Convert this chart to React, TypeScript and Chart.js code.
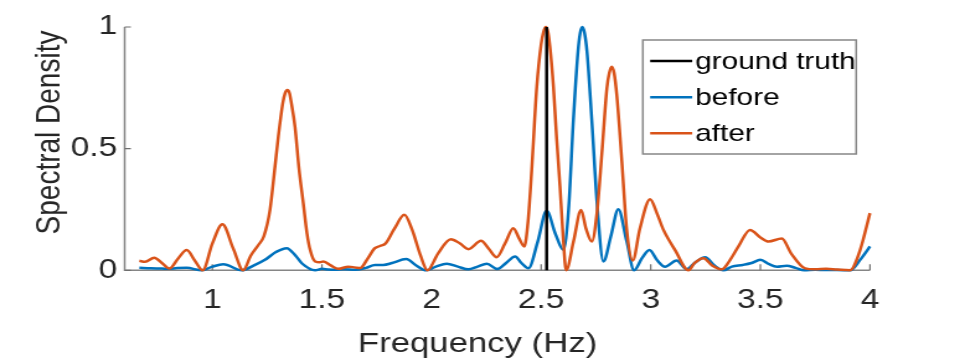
import React, { useEffect, useRef } from 'react';
import { Chart, registerables } from 'chart.js';

Chart.register(...registerables);

// ---------- data ----------
const X_TICKS = [1, 1.5, 2, 2.5, 3, 3.5, 4];
const Y_TICKS = [0, 0.5, 1];
const SERIES_NAMES = ['ground truth', 'before', 'after'];
const SERIES_COLORS = ['#000000', '#0072BD', '#D95319'];

const TRUTH_FREQ = [2.525, 2.525];
const TRUTH_VALS = [0, 1];

const BEFORE_FREQ = [
  0.667, 0.72, 0.77, 0.8, 0.84, 0.883, 0.952, 1.0, 1.05, 1.134,
  1.19, 1.24, 1.29, 1.339, 1.38, 1.408, 1.469, 1.5, 1.53, 1.56,
  1.6, 1.65, 1.7, 1.742, 1.78, 1.82, 1.884, 1.93, 1.975, 2.02,
  2.069, 2.12, 2.168, 2.21, 2.252, 2.3, 2.34, 2.381, 2.41, 2.442,
  2.485, 2.525, 2.565, 2.601, 2.625, 2.647, 2.668, 2.678, 2.688, 2.698,
  2.709, 2.731, 2.757, 2.784, 2.818, 2.852, 2.89, 2.924, 2.96, 2.994,
  3.03, 3.065, 3.118, 3.164, 3.2, 3.248, 3.29, 3.331, 3.37, 3.42,
  3.46, 3.5, 3.54, 3.575, 3.62, 3.66, 3.7, 3.75, 3.8, 3.85,
  3.91, 3.955, 4.0,
];
const BEFORE_VALS = [
  0.01, 0.008, 0.007, 0.006, 0.009, 0.01, 0.0, 0.015, 0.025, 0.0,
  0.02, 0.043, 0.075, 0.091, 0.06, 0.029, 0.0, 0.006, 0.003, 0.002,
  0.004, 0.002, 0.01, 0.022, 0.022, 0.03, 0.046, 0.02, 0.0, 0.015,
  0.027, 0.015, 0.004, 0.015, 0.027, 0.005, 0.03, 0.057, 0.03, 0.008,
  0.12, 0.245, 0.15, 0.084, 0.25, 0.618, 0.9, 0.975, 1.0, 0.975,
  0.9, 0.618, 0.25, 0.036, 0.14, 0.251, 0.12, 0.0, 0.05, 0.083,
  0.04, 0.015, 0.04, 0.004, 0.03, 0.054, 0.02, 0.0, 0.015, 0.022,
  0.03, 0.043, 0.025, 0.015, 0.019, 0.01, 0.0, 0.002, 0.001, 0.001,
  0.0, 0.043, 0.098,
];

const AFTER_FREQ = [
  0.667, 0.693, 0.735, 0.77, 0.804, 0.845, 0.883, 0.92, 0.956, 1.0,
  1.046, 1.095, 1.141, 1.175, 1.21, 1.235, 1.263, 1.285, 1.301, 1.322,
  1.332, 1.342, 1.352, 1.36, 1.377, 1.395, 1.415, 1.432, 1.446, 1.469,
  1.49, 1.507, 1.54, 1.575, 1.62, 1.65, 1.674, 1.71, 1.74, 1.765,
  1.79, 1.83, 1.876, 1.91, 1.95, 1.981, 2.03, 2.088, 2.13, 2.168,
  2.226, 2.26, 2.297, 2.335, 2.373, 2.4, 2.423, 2.44, 2.457, 2.48,
  2.5, 2.511, 2.521, 2.531, 2.54, 2.556, 2.57, 2.586, 2.6, 2.614,
  2.648, 2.682, 2.705, 2.731, 2.755, 2.777, 2.8, 2.811, 2.822, 2.833,
  2.845, 2.868, 2.89, 2.918, 2.95, 2.997, 3.03, 3.058, 3.111, 3.172,
  3.2, 3.24, 3.28, 3.324, 3.36, 3.4, 3.453, 3.5, 3.537, 3.598,
  3.64, 3.704, 3.75, 3.8, 3.85, 3.909, 3.955, 4.0,
];
const AFTER_VALS = [
  0.039, 0.035, 0.052, 0.03, 0.007, 0.05, 0.083, 0.04, 0.0, 0.11,
  0.189, 0.09, 0.0, 0.06, 0.104, 0.14, 0.248, 0.42, 0.55, 0.69,
  0.728, 0.741, 0.728, 0.69, 0.59, 0.42, 0.275, 0.15, 0.084, 0.036,
  0.033, 0.036, 0.02, 0.006, 0.015, 0.012, 0.009, 0.05, 0.09, 0.1,
  0.11, 0.17, 0.228, 0.17, 0.06, 0.0, 0.07, 0.128, 0.11, 0.087,
  0.121, 0.09, 0.054, 0.11, 0.173, 0.13, 0.098, 0.2, 0.413, 0.755,
  0.93, 0.98, 1.0, 0.98, 0.92, 0.755, 0.55, 0.344, 0.14, 0.0,
  0.12, 0.248, 0.17, 0.118, 0.24, 0.48, 0.75, 0.812, 0.837, 0.81,
  0.72, 0.45, 0.17, 0.04, 0.17, 0.292, 0.23, 0.166, 0.083, 0.0,
  0.03, 0.05, 0.02, 0.004, 0.04, 0.098, 0.166, 0.135, 0.118, 0.131,
  0.07, 0.008, 0.004, 0.006, 0.003, 0.0, 0.083, 0.235,
];

// ---------- layout (unstretched canvas coordinates) ----------
const BASE_W = 774;
const BASE_H = 360;
const FONT = "'Liberation Sans', Arial, Helvetica, sans-serif";
const TEXT_COLOR = '#262626';
const AXIS_COLOR = '#868686';

const toPoints = (xs: number[], ys: number[]) => xs.map((x, i) => ({ x, y: ys[i] }));

const decorPlugin = {
  id: 'decor',
  beforeDatasetsDraw(chart: any) {
    const { ctx, chartArea } = chart;
    const xs = chart.scales.x;
    const ys = chart.scales.y;
    ctx.save();
    ctx.strokeStyle = AXIS_COLOR;
    ctx.lineWidth = 1.5;
    ctx.beginPath();
    ctx.moveTo(chartArea.left, chartArea.top);
    ctx.lineTo(chartArea.left, chartArea.bottom);
    ctx.lineTo(chartArea.right, chartArea.bottom);
    ctx.stroke();
    ctx.strokeStyle = '#6e6e6e';
    ctx.lineWidth = 1.2;
    ctx.beginPath();
    X_TICKS.forEach((v) => {
      const px = xs.getPixelForValue(v);
      ctx.moveTo(px, chartArea.bottom);
      ctx.lineTo(px, chartArea.bottom - 6);
    });
    Y_TICKS.forEach((v) => {
      const py = ys.getPixelForValue(v);
      ctx.moveTo(chartArea.left, py);
      ctx.lineTo(chartArea.left + 5, py);
    });
    ctx.stroke();
    ctx.restore();
  },
  afterDraw(chart: any) {
    const { ctx } = chart;
    ctx.save();
    // axis titles
    ctx.fillStyle = TEXT_COLOR;
    ctx.font = `28px ${FONT}`;
    ctx.textAlign = 'center';
    ctx.textBaseline = 'alphabetic';
    ctx.fillText('Frequency (Hz)', 385, 351.5);
    ctx.save();
    ctx.translate(47.6, 132.5);
    ctx.rotate(-Math.PI / 2);
    ctx.fillText('Spectral Density', 0, 0);
    ctx.restore();

    // legend
    const lx1 = 518.3, lx2 = 690.3, ly1 = 40, ly2 = 154;
    ctx.fillStyle = '#ffffff';
    ctx.fillRect(lx1, ly1, lx2 - lx1, ly2 - ly1);
    ctx.strokeStyle = AXIS_COLOR;
    ctx.lineWidth = 1.5;
    ctx.strokeRect(lx1, ly1, lx2 - lx1, ly2 - ly1);
    const rows = [61, 97.3, 133.3];
    ctx.font = `24px ${FONT}`;
    ctx.textAlign = 'left';
    ctx.textBaseline = 'middle';
    SERIES_NAMES.forEach((name, i) => {
      ctx.strokeStyle = SERIES_COLORS[i];
      ctx.lineWidth = 2.5;
      ctx.beginPath();
      ctx.moveTo(524.2, rows[i]);
      ctx.lineTo(558.1, rows[i]);
      ctx.stroke();
      ctx.fillStyle = '#000000';
      ctx.fillText(name, 560.5, rows[i] + 1);
    });
    ctx.restore();
  },
};

export default function App() {
  const ref = useRef<HTMLCanvasElement>(null);

  useEffect(() => {
    document.body.style.margin = '0';
    const canvas = ref.current;
    if (!canvas) return;
    const chart = new Chart(canvas, {
      type: 'line',
      data: {
        datasets: [
          {
            label: SERIES_NAMES[0],
            data: toPoints(TRUTH_FREQ, TRUTH_VALS),
            borderColor: SERIES_COLORS[0],
            borderWidth: 2.5,
            pointRadius: 0,
            clip: false as any,
          },
          {
            label: SERIES_NAMES[2],
            data: toPoints(AFTER_FREQ, AFTER_VALS),
            borderColor: SERIES_COLORS[2],
            borderWidth: 2.5,
            pointRadius: 0,
            cubicInterpolationMode: 'monotone',
            clip: false as any,
          },
          {
            label: SERIES_NAMES[1],
            data: toPoints(BEFORE_FREQ, BEFORE_VALS),
            borderColor: SERIES_COLORS[1],
            borderWidth: 2.5,
            pointRadius: 0,
            cubicInterpolationMode: 'monotone',
            clip: false as any,
          },
        ],
      },
      options: {
        animation: false,
        responsive: true,
        maintainAspectRatio: false,
        layout: { padding: { left: 0, top: 27, right: BASE_W - 701.4, bottom: 0 } },
        plugins: {
          legend: { display: false },
          tooltip: { enabled: false },
          title: { display: false },
        },
        scales: {
          x: {
            type: 'linear',
            min: 0.6,
            max: 4,
            grid: { display: false, drawTicks: false },
            border: { display: false },
            afterBuildTicks: (s: any) => {
              s.ticks = X_TICKS.map((v) => ({ value: v }));
            },
            afterFit: (s: any) => {
              s.height = BASE_H - 270.3;
            },
            ticks: {
              autoSkip: false,
              maxRotation: 0,
              padding: 14,
              color: TEXT_COLOR,
              font: { family: FONT, size: 27 },
              callback: (v: any) => String(v),
            },
          },
          y: {
            type: 'linear',
            min: 0,
            max: 1,
            grid: { display: false, drawTicks: false },
            border: { display: false },
            afterBuildTicks: (s: any) => {
              s.ticks = Y_TICKS.map((v) => ({ value: v }));
            },
            afterFit: (s: any) => {
              s.width = 100.5;
            },
            ticks: {
              padding: 6,
              color: TEXT_COLOR,
              font: { family: FONT, size: 27 },
              callback: (v: any) => String(v),
            },
          },
        },
      },
      plugins: [decorPlugin],
    });
    return () => chart.destroy();
  }, []);

  return (
    <div
      style={{
        position: 'fixed',
        left: 0,
        top: 0,
        width: 960,
        height: 360,
        overflow: 'hidden',
        background: '#ffffff',
      }}
    >
      <div
        style={{
          position: 'absolute',
          left: 0,
          top: 0,
          width: BASE_W,
          height: BASE_H,
          transform: `scaleX(${960 / BASE_W})`,
          transformOrigin: '0 0',
        }}
      >
        <canvas ref={ref} />
      </div>
    </div>
  );
}
